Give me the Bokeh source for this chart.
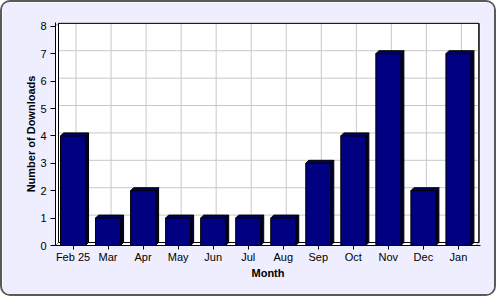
from bokeh.plotting import figure
from bokeh.models import Range1d, FixedTicker, ColumnDataSource
from bokeh.embed import file_html
from bokeh.resources import INLINE

months = ["Feb 25", "Mar", "Apr", "May", "Jun", "Jul", "Aug", "Sep", "Oct", "Nov", "Dec", "Jan"]
downloads = [4, 1, 2, 1, 1, 1, 1, 3, 4, 7, 2, 7]
y_ticks = [0, 1, 2, 3, 4, 5, 6, 7, 8]

FONT = "Liberation Sans"
# 3D depth offset in data units (approx 3 px each way)
DX = 3 / 35.0
DY = 3 / 27.4
BAR_W = 25 / 35.0

n = len(months)
xs = [i + 0.5 for i in range(n)]

p = figure(width=496, height=296, output_backend="svg", toolbar_location=None,
           x_range=Range1d(0, 12.13), y_range=Range1d(0, 8.14),
           min_border_left=53, min_border_right=18, min_border_top=20, min_border_bottom=53,
           background_fill_color="#eeeeff", border_fill_color="#eeeeff",
           outline_line_color=None)
p.styles = {"border": "2px solid #5a5a5a", "border-radius": "10px", "overflow": "hidden"}
p.xgrid.visible = False
p.ygrid.visible = False

# back wall, left wall, floor
p.quad(left=[DX], right=[12 + DX], bottom=[DY], top=[8 + DY], fill_color="white",
       line_color="black", line_width=1)
p.patch([0, 0, DX, DX], [0, 8, 8 + DY, DY], fill_color="white", line_color="#888888", line_width=1)
p.patch([0, 12, 12 + DX, DX], [0, 0, DY, DY], fill_color="white", line_color="#888888", line_width=1)

# grid on back wall
p.segment(x0=[DX] * 8, y0=[t + DY for t in y_ticks[1:]], x1=[12 + DX] * 8,
          y1=[t + DY for t in y_ticks[1:]], line_color="#c8c8c8", line_width=1)
p.segment(x0=[x + DX for x in xs], y0=[DY] * n, x1=[x + DX for x in xs], y1=[8 + DY] * n,
          line_color="#c8c8c8", line_width=1)
p.quad(left=[DX], right=[12 + DX], bottom=[DY], top=[8 + DY], fill_color=None,
       line_color="black", line_width=1)

# bars
lefts = [x - BAR_W / 2 for x in xs]
rights = [x + BAR_W / 2 for x in xs]
side_xs = [[r, r + DX, r + DX, r] for r in rights]
side_ys = [[0, DY, v + DY, v] for v in downloads]
top_xs = [[l, l + DX, r + DX, r] for l, r in zip(lefts, rights)]
top_ys = [[v, v + DY, v + DY, v] for v in downloads]
p.patches(side_xs, side_ys, fill_color="#00002a", line_color="black", line_width=1)
p.patches(top_xs, top_ys, fill_color="#000066", line_color="black", line_width=1)
src = ColumnDataSource(dict(left=lefts, right=rights, top=downloads, bottom=[0] * n))
p.quad(left="left", right="right", top="top", bottom="bottom", source=src,
       fill_color="#000080", line_color="black", line_width=1)

# axes
p.xaxis.ticker = FixedTicker(ticks=xs)
p.xaxis.major_label_overrides = {x: m for x, m in zip(xs, months)}
p.xaxis.minor_tick_line_color = None
p.xaxis.major_tick_in = 0
p.xaxis.major_tick_out = 4
p.xaxis.axis_label = "Month"
p.yaxis.ticker = FixedTicker(ticks=y_ticks)
p.yaxis.minor_tick_line_color = None
p.yaxis.major_tick_in = 0
p.yaxis.major_tick_out = 5
p.yaxis.axis_label = "Number of Downloads"
for ax in (p.xaxis[0], p.yaxis[0]):
    ax.axis_line_color = "black"
    ax.major_tick_line_color = "black"
    ax.major_label_text_font = FONT
    ax.major_label_text_font_size = "11px"
    ax.major_label_text_color = "black"
    ax.axis_label_text_font = FONT
    ax.axis_label_text_font_size = "11px"
    ax.axis_label_text_font_style = "bold"
    ax.axis_label_text_color = "black"
p.xaxis.major_label_standoff = 1
p.xaxis.axis_label_standoff = 1
p.yaxis.major_label_standoff = 4
p.yaxis.axis_label_standoff = 0

open("out.html", "w").write(file_html(p, INLINE))
